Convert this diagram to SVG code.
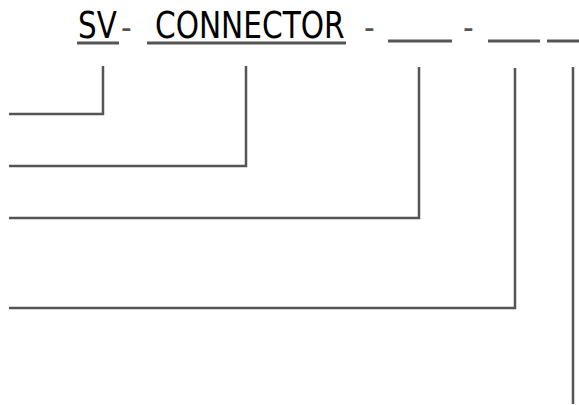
<svg xmlns="http://www.w3.org/2000/svg" width="579" height="405" viewBox="0 0 579 405">
<style>
.t{font-family:"DejaVu Sans Condensed","DejaVu Sans",sans-serif;font-size:37px;fill:#000}
.d{font-family:"DejaVu Sans Condensed","DejaVu Sans",sans-serif;font-size:33px;fill:#555}
.u{stroke:#555;stroke-width:3;fill:none}
.c{stroke:#555;stroke-width:2.5;fill:none}
</style>
<rect width="579" height="405" fill="#fff"/>
<g id="code">
<text class="t" transform="translate(78,37.5) scale(0.88,1)" textLength="44" lengthAdjust="spacingAndGlyphs">SV</text>
<text class="d" x="121" y="39">-</text>
<text class="t" transform="translate(155,37.5) scale(0.8,1)" textLength="237" lengthAdjust="spacingAndGlyphs">CONNECTOR</text>
<text class="d" x="364" y="39">-</text>
<text class="d" x="463" y="39">-</text>
<line class="u" x1="77" y1="43" x2="119" y2="43"/>
<line class="u" x1="147" y1="43" x2="346" y2="43"/>
<line class="u" x1="388" y1="41" x2="452" y2="41"/>
<line class="u" x1="488" y1="41" x2="540" y2="41"/>
<line class="u" x1="547" y1="41" x2="579" y2="41"/>
</g>
<g id="connectors">
<polyline class="c" points="103,66 103,114 9,114"/>
<polyline class="c" points="246,66 246,166 9,166"/>
<polyline class="c" points="419,67 419,218 9,218"/>
<polyline class="c" points="515,68 515,308 9,308"/>
<line class="c" x1="573" y1="67" x2="573" y2="404"/>
</g>
</svg>
